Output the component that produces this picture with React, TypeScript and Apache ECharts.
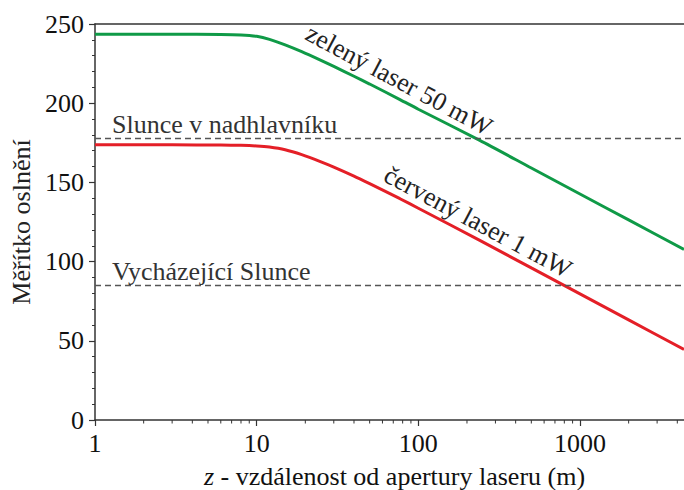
import React, { useEffect, useRef } from "react";
import * as echarts from "echarts";

// distances z (m)
const zValues = [1, 3, 6, 8, 10, 12, 15, 19, 25, 30, 40, 50, 77, 100, 240, 500, 1000, 2000, 4400];
// green laser 50 mW
const greenValues = [243.5, 243.5, 243.4, 243.1, 242.2, 240.3, 236.8, 232.5, 227.0, 223.2, 217.0, 212.1, 202.3, 196.2, 176.5, 159.1, 142.7, 126.3, 107.7];
// red laser 1 mW
const redValues = [173.7, 173.7, 173.6, 173.4, 173.0, 172.3, 170.6, 167.5, 163.0, 159.7, 154.0, 149.2, 139.7, 133.7, 113.4, 96.0, 79.6, 63.2, 44.5];
// reference levels
const refLevels = [178, 85];
const refNames = ["Slunce v nadhlavníku", "Vycházející Slunce"];
// x-axis minor ticks (log)
const minorTicks = [2, 3, 4, 5, 6, 7, 8, 9, 20, 30, 40, 50, 60, 70, 80, 90, 200, 300, 400, 500, 600, 700, 800, 900, 2000, 3000, 4000];
const xMin = 1;
const xMax = 4400;

const FONT = "Liberation Serif";

export default function App() {
  const ref = useRef<HTMLDivElement>(null);
  useEffect(() => {
    if (!ref.current) return;
    const chart = echarts.init(ref.current, null, { renderer: "svg" });
    const axisColor = "#333";
    chart.setOption({
      animation: false,
      backgroundColor: "#fff",
      textStyle: { fontFamily: FONT },
      grid: { left: 95, right: 0, top: 24, bottom: 70, outerBoundsMode: "none", containLabel: false },
      xAxis: [
        {
          type: "log",
          logBase: 10,
          min: xMin,
          max: xMax,
          axisLine: { lineStyle: { color: axisColor, width: 1.5 } },
          axisTick: { show: true, length: 6, inside: false, lineStyle: { color: axisColor, width: 1.2 } },
          axisLabel: {
            color: "#111",
            fontFamily: FONT,
            fontSize: 26,
            margin: 10,
            showMaxLabel: false,
            formatter: (v: number) => (v > 1000 ? "" : String(Math.round(v))),
          },
          splitLine: { show: false },
          name: "{i|z} - vzdálenost od apertury laseru (m)",
          nameLocation: "middle",
          nameGap: 43,
          nameTextStyle: {
            color: "#111",
            fontFamily: FONT,
            fontSize: 26,
            padding: [0, 0, 0, 10],
            rich: { i: { fontStyle: "italic", fontFamily: FONT, fontSize: 26, color: "#111" } },
          },
        },
        {
          type: "log",
          position: "top",
          min: xMin,
          max: xMax,
          axisLine: { show: true, onZero: false, lineStyle: { color: axisColor, width: 1.5 } },
          axisTick: { show: false },
          axisLabel: { show: false },
          splitLine: { show: false },
        },
      ],
      yAxis: {
        type: "value",
        min: 0,
        max: 250,
        interval: 50,
        axisLine: { show: true, lineStyle: { color: axisColor, width: 1.5 } },
        axisTick: { show: true, length: 6, inside: false, lineStyle: { color: axisColor, width: 1.2 } },
        minorTick: { show: true, splitNumber: 5, length: 3, lineStyle: { color: axisColor, width: 1 } },
        axisLabel: { color: "#111", fontFamily: FONT, fontSize: 26, margin: 11 },
        splitLine: { show: false },
        name: "Měřítko oslnění",
        nameLocation: "middle",
        nameRotate: 90,
        nameGap: 55,
        nameTextStyle: { color: "#222", fontFamily: FONT, fontSize: 26 },
      },
      series: [
        {
          type: "line",
          name: "zelený laser 50 mW",
          data: zValues.map((z, i) => [z, greenValues[i]]),
          showSymbol: false,
          smooth: 0.25,
          lineStyle: { color: "#0f9a47", width: 3 },
          z: 3,
          markLine: {
            silent: true,
            symbol: "none",
            lineStyle: { color: "#555", type: [6, 4], width: 1.3 },
            label: {
              show: true,
              position: "insideStartTop",
              formatter: "{b}",
              color: "#333",
              fontFamily: FONT,
              fontSize: 26,
              distance: [17, 1],
            },
            data: refLevels.map((v, i) => ({ yAxis: v, name: refNames[i] })),
          },
        },
        {
          type: "line",
          name: "červený laser 1 mW",
          data: zValues.map((z, i) => [z, redValues[i]]),
          showSymbol: false,
          smooth: 0.25,
          lineStyle: { color: "#e41f27", width: 3 },
          z: 3,
        },
        {
          type: "custom",
          clip: false,
          silent: true,
          data: minorTicks.map((t) => [t, 0]),
          renderItem: (params: any, api: any) => {
            const p = api.coord([api.value(0), 0]);
            return {
              type: "line",
              shape: { x1: p[0], y1: p[1], x2: p[0], y2: p[1] + 3.5 },
              style: { stroke: axisColor, lineWidth: 1 },
            };
          },
        },
      ],
      graphic: [
        {
          type: "text",
          x: 399,
          y: 80,
          rotation: -0.49,
          style: {
            text: "zelený laser 50 mW",
            fill: "#222",
            font: `26px "${FONT}"`,
            align: "center",
            verticalAlign: "middle",
          },
        },
        {
          type: "text",
          x: 478,
          y: 222,
          rotation: -0.49,
          style: {
            text: "červený laser 1 mW",
            fill: "#222",
            font: `26px "${FONT}"`,
            align: "center",
            verticalAlign: "middle",
          },
        },
      ],
    });
    return () => chart.dispose();
  }, []);
  return (
    <div
      ref={ref}
      style={{ position: "fixed", left: 0, top: 0, width: 684, height: 490, background: "#fff" }}
    />
  );
}
